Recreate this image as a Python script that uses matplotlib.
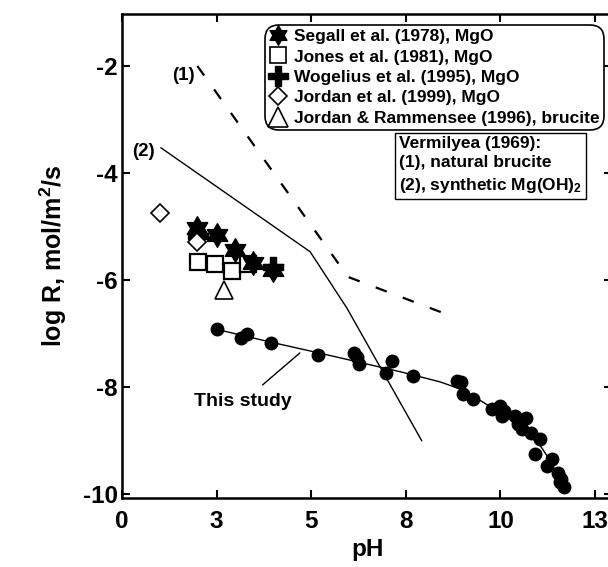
import matplotlib
matplotlib.use("Agg")
import matplotlib.pyplot as plt
from matplotlib.lines import Line2D
from matplotlib.path import Path

plt.rcParams['font.family'] = ['Liberation Sans', 'DejaVu Sans']
plt.rcParams['font.weight'] = 'bold'
plt.rcParams['axes.unicode_minus'] = False
plt.rcParams['mathtext.fontset'] = 'custom'
plt.rcParams['mathtext.rm'] = 'Liberation Sans:bold'
plt.rcParams['mathtext.bf'] = 'Liberation Sans:bold'
plt.rcParams['mathtext.default'] = 'bf'

# this study
study_ph = [2.50, 3.14, 3.29, 3.94, 5.17, 6.13, 6.20, 6.25, 6.98, 7.14, 7.68,
            8.84, 8.95, 9.01, 9.27, 9.77, 9.99, 10.03, 10.10, 10.38, 10.46,
            10.56, 10.67, 10.82, 11.04, 10.91, 11.35, 11.22, 11.52, 11.61,
            11.57, 11.68]
study_logr = [-6.92, -7.08, -7.01, -7.17, -7.39, -7.36, -7.43, -7.56, -7.74,
              -7.51, -7.80, -7.88, -7.90, -8.12, -8.22, -8.40, -8.35, -8.54,
              -8.45, -8.54, -8.69, -8.78, -8.57, -8.85, -8.97, -9.25, -9.34,
              -9.47, -9.60, -9.72, -9.78, -9.87]
fit_ph = [2.5, 4.0, 5.2, 6.3, 7.4, 8.4, 9.0, 9.54, 10.3, 11.04, 11.22, 11.35]
fit_logr = [-6.92, -7.17, -7.36, -7.54, -7.72, -7.90, -8.05, -8.28, -8.62,
            -9.08, -9.27, -9.45]

# literature
segall_ph = [1.98, 2.51, 2.99, 3.46, 3.99]
segall_logr = [-5.03, -5.16, -5.44, -5.68, -5.81]
jones_ph = [2.0, 2.46, 2.91, 3.33]
jones_logr = [-5.66, -5.70, -5.83, -5.70]
wogelius_ph = [2.0, 4.0]
wogelius_logr = [-5.18, -5.76]
jordan_ph = [1.0, 1.98]
jordan_logr = [-4.75, -5.29]
rammensee_ph = [2.69]
rammensee_logr = [-6.19]

# Vermilyea (1969)
verm1_ph = [1.99, 5.97, 8.51]
verm1_logr = [-2.0, -5.94, -6.62]
verm2_ph = [1.03, 4.97, 5.94, 7.92]
verm2_logr = [-3.53, -5.47, -6.52, -9.0]

xticks = [0, 2.5, 5, 7.5, 10, 12.5]
xticklabels = ['0', '3', '5', '8', '10', '13']
yticks = [-10, -8, -6, -4, -2]

fig = plt.figure(figsize=(6.08, 5.67), dpi=100)
ax = fig.add_axes([0.2007, 0.1217, 0.806, 0.8536])

ax.plot(verm1_ph, verm1_logr, color='black', lw=1.6, dashes=(5.3, 7.7))
ax.plot(verm2_ph, verm2_logr, color='black', lw=1.0)
ax.plot(fit_ph, fit_logr, color='black', lw=1.0)
ax.plot(study_ph, study_logr, 'o', color='black', ms=9, zorder=3)

hexagram = Path.unit_regular_star(6, 0.577)
l_jones, = ax.plot(jones_ph, jones_logr, 's', ms=12, mfc='white', mec='black',
                   mew=1.6, ls='none', zorder=4, label='Jones et al. (1981), MgO')
l_wog, = ax.plot(wogelius_ph, wogelius_logr, 'P', ms=15, color='black',
                 ls='none', zorder=5, label='Wogelius et al. (1995), MgO')
l_seg, = ax.plot(segall_ph, segall_logr, marker=hexagram, ms=17, color='black',
                 ls='none', zorder=6, label='Segall et al. (1978), MgO')
l_jor, = ax.plot(jordan_ph, jordan_logr, 'D', ms=9, mfc='white', mec='black',
                 mew=1.2, ls='none', zorder=7, label='Jordan et al. (1999), MgO')
l_ram, = ax.plot(rammensee_ph, rammensee_logr, '^', ms=12.5, mfc='white',
                 mec='black', mew=1.2, ls='none', zorder=7,
                 label='Jordan & Rammensee (1996), brucite')

h_seg = Line2D([], [], marker=hexagram, ms=14, color='black', ls='none')
h_jones = Line2D([], [], marker='s', ms=11, mfc='white', mec='black', mew=1.2, ls='none')
h_wog = Line2D([], [], marker='P', ms=14, color='black', ls='none')
h_jor = Line2D([], [], marker='D', ms=9, mfc='white', mec='black', mew=1.2, ls='none')
h_ram = Line2D([], [], marker='^', ms=14, mfc='white', mec='black', mew=1.2, ls='none')
leg = ax.legend([h_seg, h_jones, h_wog, h_jor, h_ram],
                [l_seg.get_label(), l_jones.get_label(), l_wog.get_label(),
                 l_jor.get_label(), l_ram.get_label()],
                loc='upper right', bbox_to_anchor=(0.983, 0.978),
                borderaxespad=0, fontsize=12.5, handlelength=1.0,
                handletextpad=0.4, labelspacing=0.3, borderpad=0.25,
                fancybox=True, framealpha=1, edgecolor='black')
leg.get_frame().set_linewidth(1.2)
leg.get_frame().set_boxstyle('round', pad=0, rounding_size=0.8)

ax.text(7.32, -3.3, 'Vermilyea (1969):\n(1), natural brucite\n(2), synthetic Mg(OH)$_2$',
        fontsize=12.5, fontweight='bold', va='top', ha='left', linespacing=1.4,
        bbox=dict(boxstyle='square,pad=0.25', fc='white', ec='black', lw=1.0))

ax.text(1.61, -2.17, '(1)', fontsize=13.5, fontweight='bold', ha='center', va='center')
ax.text(0.56, -3.6, '(2)', fontsize=13.5, fontweight='bold', ha='center', va='center')
ax.annotate('This study', xy=(4.7, -7.36), xytext=(3.2, -8.27),
            fontsize=14, fontweight='bold', ha='center', va='center',
            arrowprops=dict(arrowstyle='-', color='black', lw=1.0,
                            shrinkA=6, shrinkB=0))

ax.set_xlim(0, 12.95)
ax.set_ylim(-10.07, -1.03)
ax.set_xticks(xticks)
ax.set_xticklabels(xticklabels)
ax.set_yticks(yticks)
ax.tick_params(direction='in', length=6, width=1.5, top=True, right=True,
               labelsize=17.5)
ax.tick_params(axis='x', pad=9)
ax.tick_params(axis='y', pad=3)
for s in ax.spines.values():
    s.set_linewidth(1.8)
ax.set_xlabel('pH', fontsize=17.5, fontweight='bold', labelpad=3)
ax.set_ylabel('log R, mol/m$^2$/s', fontsize=18, fontweight='bold', labelpad=10)

fig.savefig('out.png', dpi=100)
